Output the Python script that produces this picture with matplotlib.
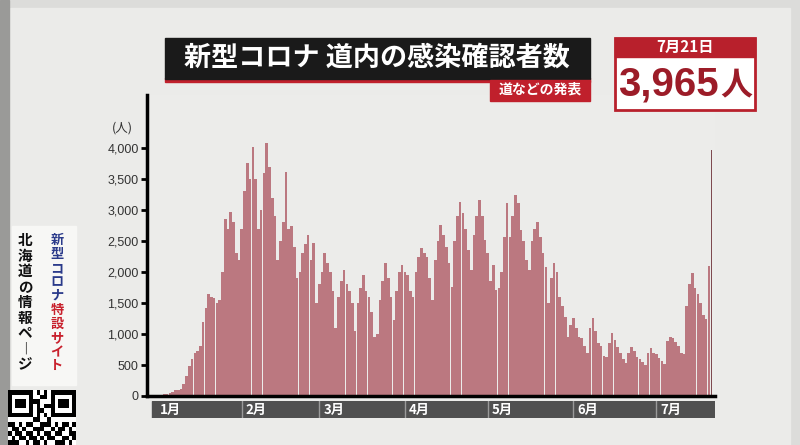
import numpy as np
import matplotlib
matplotlib.use("Agg")
import matplotlib.pyplot as plt
from matplotlib.patches import Rectangle

plt.rcParams['font.family'] = ['Noto Sans CJK JP', 'DejaVu Sans']

# daily confirmed cases, Jan 1 - Jul 21
jan = [15, 12, 12, 25, 35, 48, 68, 90, 95, 110, 200, 330, 480, 600, 700, 720,
       800, 1200, 1420, 1650, 1600, 1580, 1500, 1550, 2000, 2850, 2700, 2970,
       2800, 2300, 2200]
feb = [2700, 3300, 3760, 3500, 4020, 3500, 2700, 3000, 3600, 4080, 3700, 3200,
       2900, 2200, 2500, 2800, 3610, 2700, 2750, 2400, 1900, 2000, 2300, 2450,
       2600, 2200, 2470, 1500]
mar = [1800, 2000, 2310, 2150, 2000, 1700, 1100, 1600, 1850, 2030, 1800, 1700,
       1500, 1050, 1500, 1750, 1950, 1700, 1600, 1350, 950, 1000, 1550, 1850,
       2140, 1900, 1600, 1230, 1700, 2000, 2110]
apr = [2000, 1950, 1700, 1600, 2000, 2250, 2390, 2300, 2250, 1900, 1550, 2200,
       2500, 2760, 2600, 2400, 2140, 1760, 2500, 2900, 3130, 2950, 2700, 2350,
       2030, 2600, 2900, 3160, 2900, 2520]
may = [2300, 1850, 2110, 1710, 1750, 2000, 2570, 3110, 2570, 2900, 3240, 3110,
       2680, 2500, 2200, 2030, 2500, 2700, 2810, 2570, 2300, 2080, 1500, 1900,
       2140, 2000, 1600, 1450, 1270, 950, 1150]
jun = [1260, 1100, 950, 930, 800, 690, 1100, 1260, 1050, 850, 800, 650, 630,
       850, 1010, 900, 790, 700, 600, 530, 700, 790, 720, 630, 600, 550, 500,
       700, 770, 690]
jul = [680, 620, 560, 520, 880, 950, 930, 870, 800, 700, 680, 1450, 1800, 1980,
       1750, 1650, 1500, 1300, 1250, 2100, 3965]

months = ['1月', '2月', '3月', '4月', '5月', '6月', '7月']
month_days = [len(jan), len(feb), len(mar), len(apr), len(may), len(jun), len(jul)]
yticks = [0, 500, 1000, 1500, 2000, 2500, 3000, 3500, 4000]
ylabels = ['0', '500', '1,000', '1,500', '2,000', '2,500', '3,000', '3,500', '4,000']

cases = np.array(jan + feb + mar + apr + may + jun + jul)
days = np.arange(len(cases))
month_start = np.concatenate([[0], np.cumsum(month_days)[:-1]])

W, H = 800, 445
fig = plt.figure(figsize=(8, 4.45), dpi=100, facecolor='#dcdcda')


def box(x, y, w, h):
    # pixel box (top-left origin) -> figure fraction
    return [x / W, 1 - (y + h) / H, w / W, h / H]


def fx(x):
    return x / W


def fy(y):
    return 1 - y / H


# screen panel
fig.add_artist(Rectangle((fx(10), fy(445)), fx(790) - fx(10), fy(8) - fy(445),
                         transform=fig.transFigure, color='#ebebe9', zorder=0))
fig.add_artist(Rectangle((fx(0), fy(445)), fx(9), 1,
                         transform=fig.transFigure, color='#9a9a98', zorder=0))

# main chart
ax = fig.add_axes(box(147, 95, 568, 301))
ax.set_facecolor('#ececea')
ax.bar(days[:-1], cases[:-1], width=0.95, color='#bb7880', edgecolor='none')
ax.bar(days[-1], cases[-1], width=0.45, color='#7e4a50', edgecolor='none')
ax.set_xlim(-3.3, 202.2)
ax.set_ylim(0, 4855)
ax.set_yticks(yticks)
ax.set_yticklabels(ylabels, fontsize=9, color='#333333', family=['Liberation Sans'])
ax.tick_params(axis='y', length=4, width=2, color='black', pad=2)
ax.set_xticks([])
for s in ['top', 'right']:
    ax.spines[s].set_visible(False)
ax.spines['left'].set_linewidth(2.5)
ax.spines['bottom'].set_linewidth(2.5)
fig.text(fx(122), fy(128), '(人)', fontsize=9, color='#333333', ha='center', va='center')

# month band
bx = fig.add_axes(box(147, 401, 568, 17))
bx.set_xlim(-3.3, 202.2)
bx.set_ylim(0, 1)
bx.axis('off')
bx.add_patch(Rectangle((-1.5, 0), len(cases) + 2.5, 1, color='#505050'))
for start, name in zip(month_start, months):
    if start > 0:
        bx.axvline(start, color='#9a9a9a', lw=1)
    bx.text(start + 1.5, 0.45, name, color='white', fontsize=9.5, fontweight='bold',
            ha='left', va='center')

# title
fig.add_artist(Rectangle((fx(165), fy(82)), fx(425), fy(78) - fy(82),
                         transform=fig.transFigure, color='#c0202c'))
fig.add_artist(Rectangle((fx(165), fy(79)), fx(425), fy(38) - fy(79),
                         transform=fig.transFigure, color='#1a1a1a'))
fig.text(fx(377), fy(58), '新型コロナ 道内の感染確認者数', color='white', fontsize=19.5,
         fontweight='bold', ha='center', va='center')
fig.add_artist(Rectangle((fx(490), fy(101)), fx(100), fy(80) - fy(101),
                         transform=fig.transFigure, color='#c0202c'))
fig.text(fx(540), fy(90), '道などの発表', color='white', fontsize=10,
         fontweight='bold', ha='center', va='center')

# date box
fig.add_artist(Rectangle((fx(615), fy(110)), fx(140), fy(38) - fy(110),
                         transform=fig.transFigure, facecolor='white',
                         edgecolor='#b8202c', lw=2))
fig.add_artist(Rectangle((fx(615), fy(57)), fx(140), fy(38) - fy(57),
                         transform=fig.transFigure, color='#b8202c'))
fig.text(fx(685), fy(47), '7月21日', color='white', fontsize=11,
         fontweight='bold', ha='center', va='center')
fig.text(fx(668), fy(85), '3,965', color='#9c1c28', fontsize=29,
         fontweight='bold', ha='center', va='center', family=['Liberation Sans'])
fig.text(fx(736), fy(85), '人', color='#9c1c28', fontsize=23,
         fontweight='bold', ha='center', va='center')

# left banner
fig.add_artist(Rectangle((fx(12), fy(385)), fx(64), fy(226) - fy(385),
                         transform=fig.transFigure, color='#f7f7f5'))
col1 = '北海道の情報ペ︱ジ'
for i, ch in enumerate(col1):
    fig.text(fx(25), fy(240 + i * 15.5), ch, color='#111111', fontsize=10.5,
             fontweight='bold', ha='center', va='center')
col2 = '新型コロナ特設サイト'
for i, ch in enumerate(col2):
    fig.text(fx(57), fy(240 + i * 14), ch, color='#2a3a8a' if i < 5 else '#c8202c',
             fontsize=9.5, fontweight='bold', ha='center', va='center')

# qr code block
qr = ['1111111010101111111',
      '1000001001101000001',
      '1011101110001011101',
      '1011101010111011101',
      '1000001011001000001',
      '1111111010101111111',
      '0000000110010000000',
      '1101011001110101101',
      '0110100111001011010',
      '1011011010110110011',
      '0101101101011001101',
      '1110010110100111010']
qx = fig.add_axes(box(8, 390, 68, 55))
qx.imshow([[1 - int(c) for c in row] for row in qr], cmap='gray', aspect='auto',
          interpolation='nearest')
qx.axis('off')

fig.savefig('out.png', dpi=100, facecolor=fig.get_facecolor())
